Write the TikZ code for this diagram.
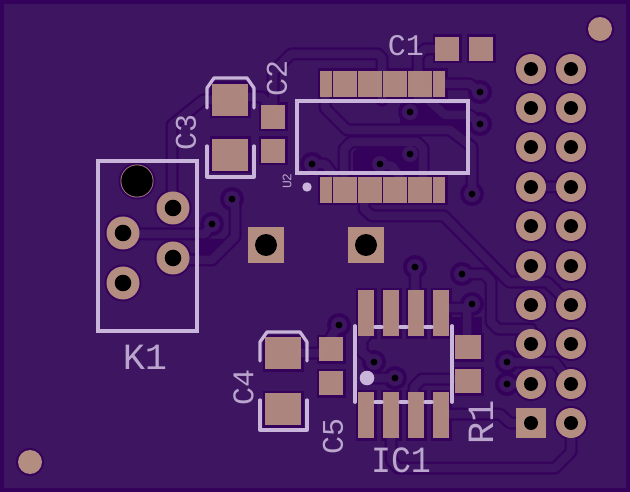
\documentclass[tikz,border=0pt]{standalone}
\usepackage{fontspec}
\newfontfamily\silkfont{Liberation Mono}
\definecolor{boardc}{HTML}{3D1560}
\definecolor{darkc}{HTML}{35025B}
\definecolor{padc}{HTML}{B48D81}
\definecolor{silkc}{HTML}{C8B5D9}
\tikzset{
  silkline/.style={draw=silkc,line width=3.3pt,line join=miter},
  silkround/.style={draw=silkc,line width=3.3pt,line cap=round,line join=round},
  lbl/.style={text=silkc,text opacity=.9,inner sep=0pt,font=\silkfont\fontsize{30}{30}\selectfont},
  lblbig/.style={text=silkc,text opacity=.9,inner sep=0pt,font=\silkfont\fontsize{37}{37}\selectfont},
  padfill/.style={fill=padc,fill opacity=.95},
  tracewide/.style={draw=darkc,line width=13pt,line join=round,line cap=round},
  tracenarrow/.style={draw=boardc,line width=8.5pt,line join=round,line cap=round},
}
\def\alltraces{
 (172,208)--(172,125)--(203,100)--(214,100)
 (248,97)--(262,97)--(273,110)
 (273,105)--(273,72)--(291,54)--(378,54)--(382,58)--(382,100)
 (436,49)--(425,49)--(418,56)--(418,100)
 (325,97)--(325,108)--(347,130)--(450,130)--(472,147)--(472,194)
 (344,177)--(344,149)--(351,142)--(417,142)--(423,148)--(423,177)
 (312,164)--(325,164)--(335,177)
 (380,164)--(392,166)--(400,177)
 (445,84)--(470,84)--(480,92)
 (425,97)--(445,115)--(470,115)--(480,124)
 (364,203)--(364,209)--(372,216)--(444,216)--(509,282)--(547,282)--(571,305)
 (462,274)--(484,274)--(491,281)--(491,322)--(498,329)--(531,329)--(531,344)
 (449,308)--(472,308)--(472,304)
 (472,304)--(467,312)--(467,335)
 (415,267)--(415,290)
 (339,325)--(331,337)
 (366,336)--(362,340)--(362,352)--(374,362)
 (370,378)--(395,378)
 (455,379)--(422,379)--(414,387)--(414,392)
 (123,234)--(205,234)--(212,224)
 (173,260)--(212,260)--(235,237)--(235,205)--(232,199)
 (531,187)--(571,187)
 (507,362)--(555,362)--(571,384)
 (507,384)--(531,384)
 (571,423)--(571,452)--(555,468)--(398,468)--(391,460)--(391,438)
 (449,414)--(500,414)--(510,423)--(531,423)
 (301,353)--(319,353)
}
\begin{document}
\begin{tikzpicture}[x=1pt,y=-1pt]
\useasboundingbox (0,0) rectangle (630,492);
\fill[darkc] (0,0) rectangle (630,492);
\fill[boardc] (4,4) rectangle (626,488);
% isolated copper-free areas
\fill[darkc] (400,104)--(468,104)--(468,135)--(452,124)--(400,124)--cycle;
\fill[darkc] (353,177)--(353,152)--(360,146)--(418,146)--(418,177)--cycle;
\fill[darkc] (197,239)--(226,239)--(230,230)--(230,238)--(211,254)--(197,254)--cycle;
\fill[darkc] (451,317)--(482,317)--(482,335)--(451,335)--cycle;
% trace outlines
\draw[tracewide] \alltraces;
% clearance rings
\foreach \x/\y in {232/199,212/224,312/164,410/112,410/154,380/164,480/92,480/124,472/194,415/267,462/274,472/304,339/325,374/362,395/378,507/362,507/384}
  \fill[darkc] (\x,\y) circle (12pt);
\foreach \x/\y in {173/208,123/233,173/258,123/283,137/181}
  \fill[darkc] (\x,\y) circle (18.5pt);
\foreach \x/\y in {600/29,30/462}
  \fill[darkc] (\x,\y) circle (14pt);
\foreach \y in {69,108,147,187,226,266,305,344,384}
  \foreach \x in {531,571}
    \fill[darkc] (\x,\y) circle (17pt);
\fill[darkc] (571,423) circle (17pt);
\foreach \a/\b/\c/\d in {212/84/248/116,212/139/248/171,261/105/285/129,261/139/285/163,265/337/301/369,265/393/301/425,319/337/343/361,319/371/343/395,455/335/481/359,455/369/481/393,435/37/459/61,469/37/493/61,358/290/374/336,383/290/399/336,408/290/424/336,433/290/449/336,358/392/374/438,383/392/399/438,408/392/424/438,433/392/449/438,320/71/445/97,320/177/445/203}
  \fill[darkc] (\a-2.5,\b-2.5) rectangle (\c+2.5,\d+2.5);
% trace copper
\draw[tracenarrow] \alltraces;
\foreach \x/\y in {232/199,212/224,312/164,410/112,410/154,380/164,480/92,480/124,472/194,415/267,462/274,472/304,339/325,374/362,395/378,507/362,507/384}{
  \fill[boardc] (\x,\y) circle (8pt);
}
% SMD pads
\foreach \a/\b/\c/\d in {212/84/248/116,212/139/248/171,261/105/285/129,261/139/285/163,265/337/301/369,265/393/301/425,319/337/343/361,319/371/343/395,455/335/481/359,455/369/481/393,435/37/459/61,469/37/493/61,358/290/374/336,383/290/399/336,408/290/424/336,433/290/449/336,358/392/374/438,383/392/399/438,408/392/424/438,433/392/449/438,
 320/71/332/97,333/71/357/97,358/71/382/97,383/71/407/97,408/71/432/97,433/71/445/97,
 320/177/332/203,333/177/357/203,358/177/382/203,383/177/407/203,408/177/432/203,433/177/445/203}
  \fill[padfill] (\a,\b) rectangle (\c,\d);
% through-hole pads
\foreach \x/\y in {173/208,123/233,173/258,123/283}{
  \fill[padc] (\x,\y) circle (16.5pt);
  \fill[black] (\x,\y) circle (8.3pt);
}
\fill[padc] (137,181) circle (16.5pt);
\fill[black] (137,181) circle (15.7pt);
\fill[padc] (600,29) circle (12pt);
\fill[padc] (30,462) circle (12pt);
\foreach \y in {69,108,147,187,226,266,305,344,384}
  \foreach \x in {531,571}{
    \fill[padc] (\x,\y) circle (15pt);
    \fill[black] (\x,\y) circle (7pt);
  }
\fill[padc] (516,408) rectangle (546,438);
\fill[black] (531,423) circle (7pt);
\fill[padc] (571,423) circle (15pt);
\fill[black] (571,423) circle (7pt);
\fill[padc] (248,227) rectangle (284,263);
\fill[black] (266,245) circle (11pt);
\fill[padc] (348,227) rectangle (384,263);
\fill[black] (366,245) circle (11pt);
% via drills
\foreach \x/\y in {232/199,212/224,312/164,410/112,410/154,380/164,480/92,480/124,472/194,415/267,462/274,472/304,339/325,374/362,395/378,507/362,507/384}
  \fill[black] (\x,\y) circle (3.4pt);
% silkscreen
\draw[silkline] (98,161) rectangle (197,331);
\draw[silkline] (297,101) rectangle (468,173);
\draw[silkround] (207,108)--(207,88)--(214,78)--(247,78)--(254,88)--(254,108);
\draw[silkround] (207,146)--(207,177)--(254,177)--(254,146);
\draw[silkround] (260,361)--(260,342)--(267,332)--(300,332)--(307,342)--(307,361);
\draw[silkround] (260,400)--(260,430)--(307,430)--(307,400);
\draw[silkround,line width=3.8pt] (355,326)--(355,402);
\draw[silkround,line width=3.8pt] (452,326)--(452,402);
\foreach \a/\b/\y in {375/382/327,400/407/327,425/432/327,375/382/402,400/407/402,425/432/402}
  \draw[silkround] (\a,\y)--(\b,\y);
\fill[silkc] (367,378) circle (7.3pt);
\fill[silkc] (307,187) circle (4.7pt);
% labels
\node[lbl] (c1) at (406,46) {C1};
\node[lbl,rotate=90] (c2) at (277,78) {C2};
\node[lbl,rotate=90] (c3) at (186,132) {C3};
\node[lbl,rotate=90] (c4) at (243.5,387) {C4};
\node[lbl,rotate=90] (c5) at (333,436) {C5};
\node[lbl,rotate=90,font=\silkfont\fontsize{13}{13}\selectfont] (u2) at (287,181) {U2};
\node[lblbig] (k1) at (145,357) {K1};
\node[lblbig,rotate=90] (r1) at (481,422) {R1};
\node[lblbig,xscale=.9] (ic1) at (401,460) {IC1};
\end{tikzpicture}
\end{document}
